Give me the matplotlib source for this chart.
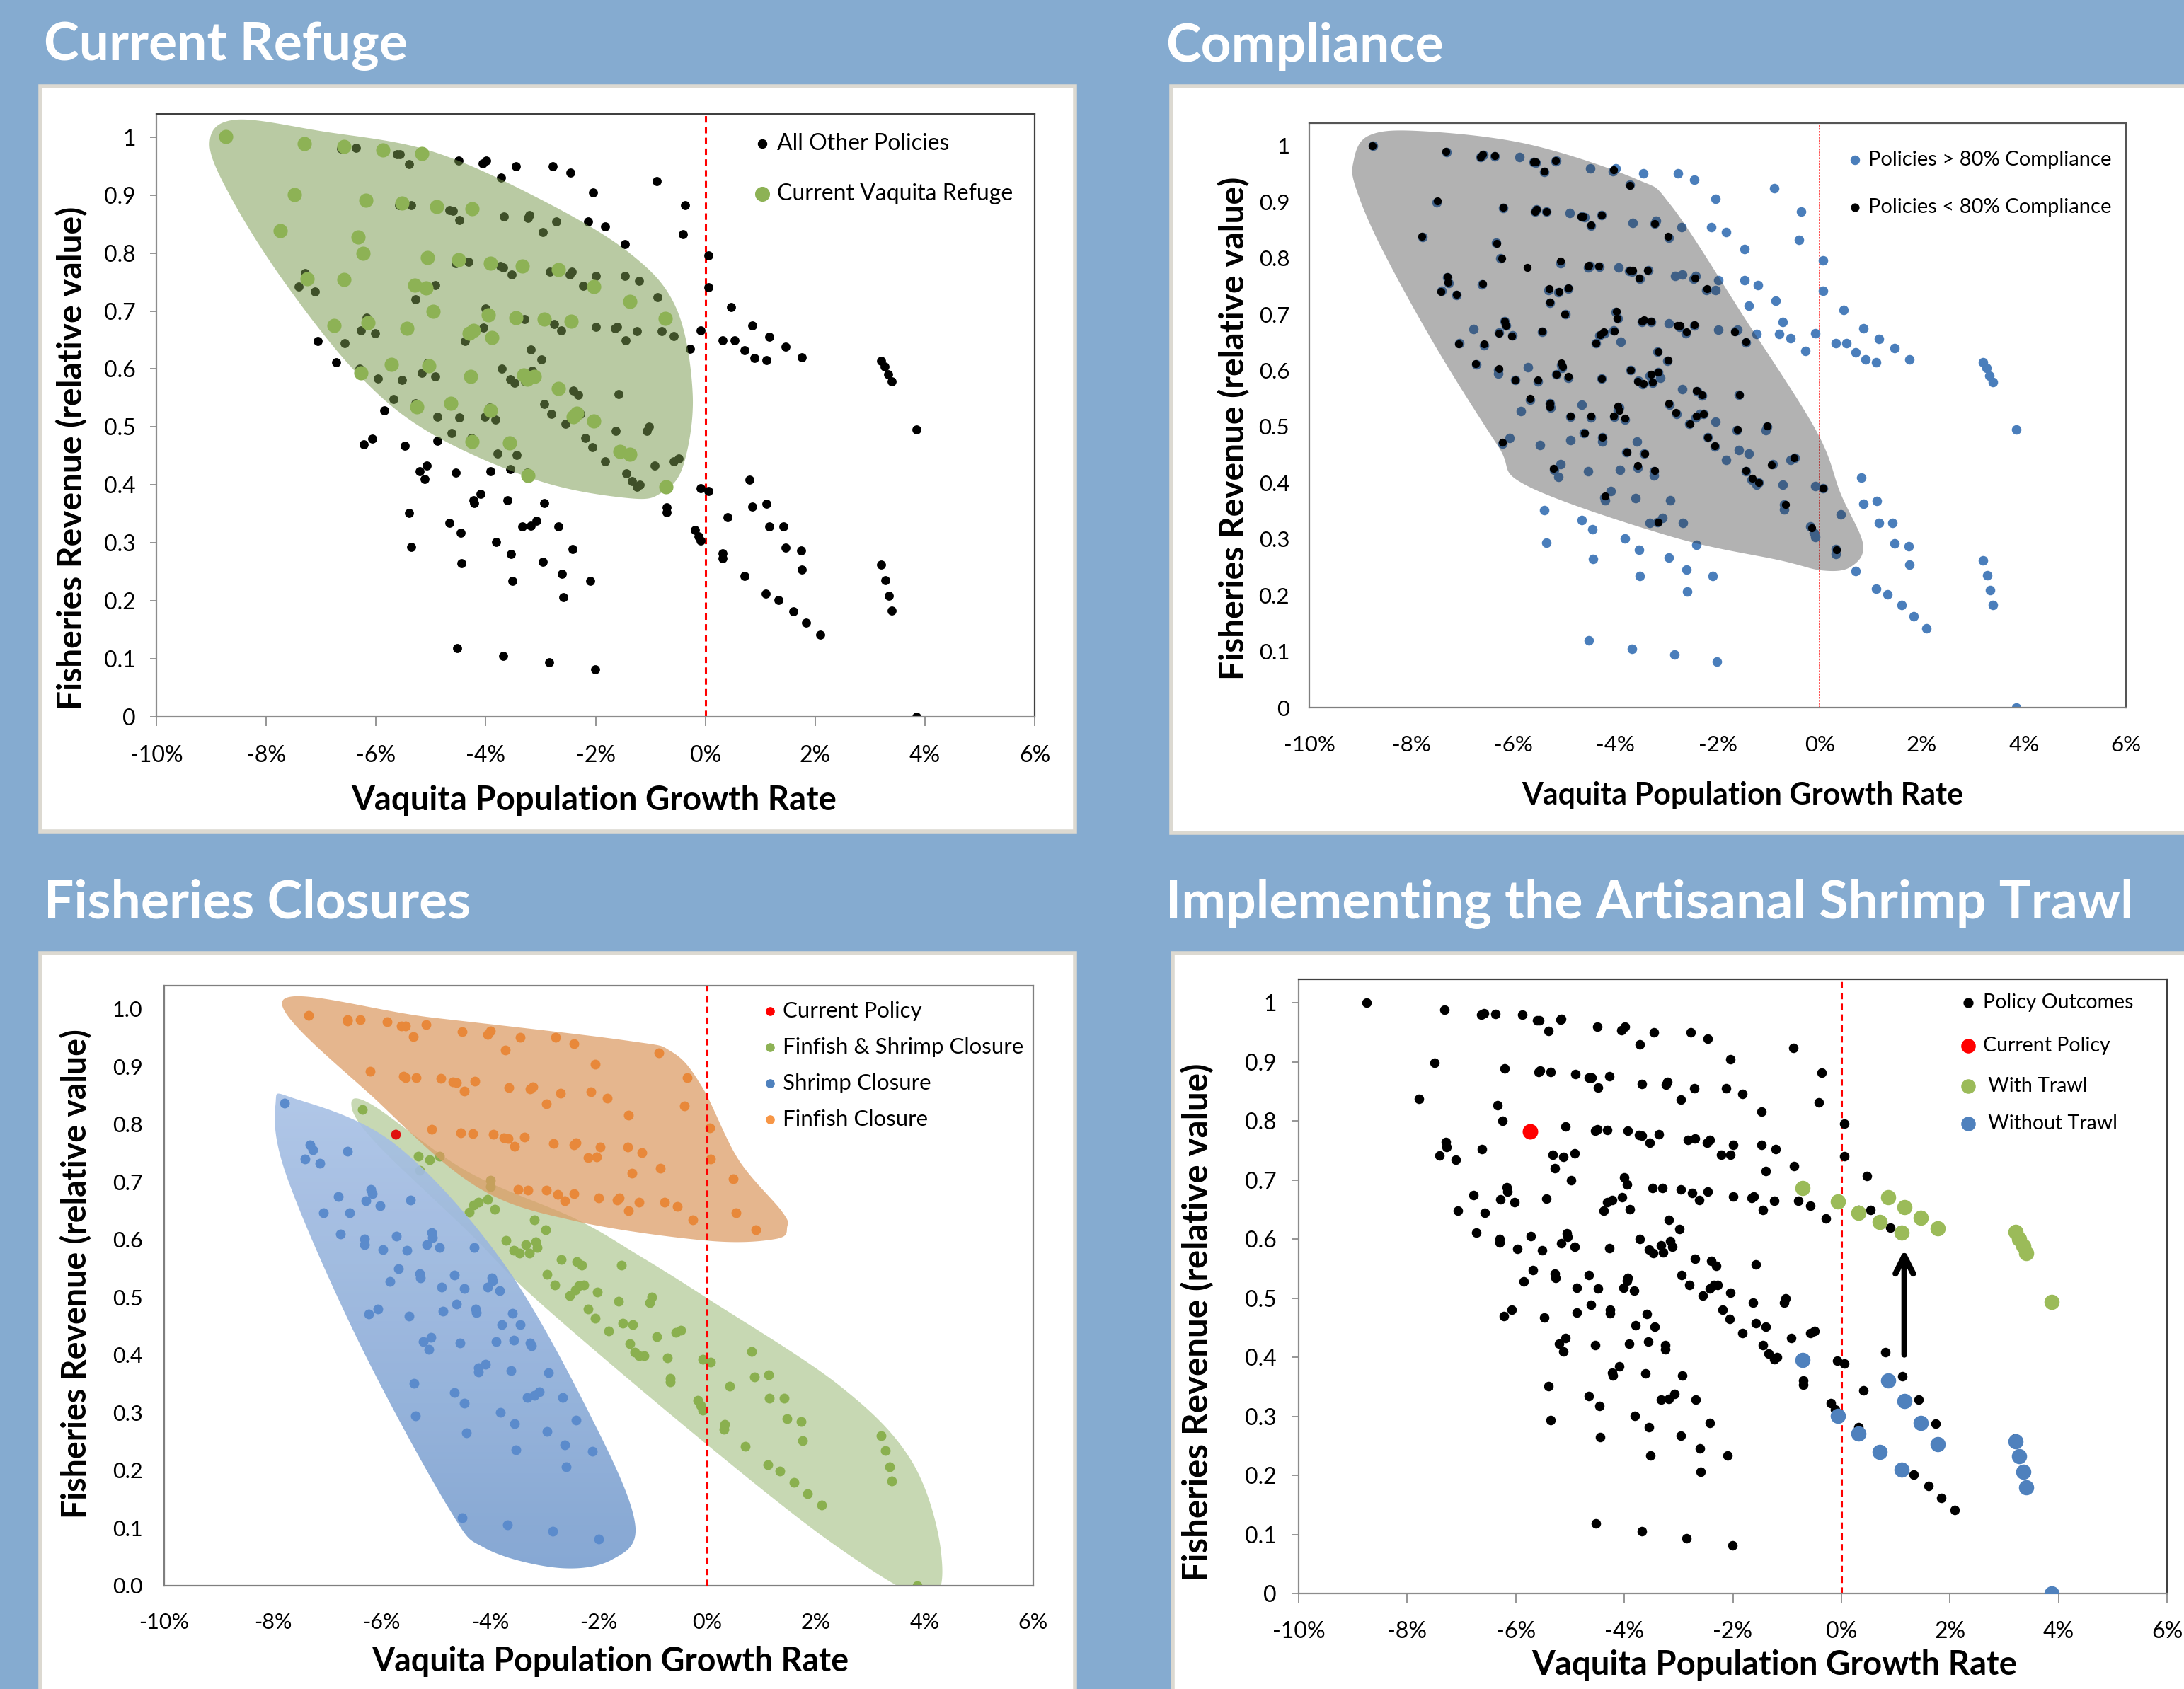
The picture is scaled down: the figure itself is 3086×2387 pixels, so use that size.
import numpy as np
import matplotlib
matplotlib.use('Agg')
import matplotlib.pyplot as plt
from matplotlib.patches import Polygon, Rectangle
from matplotlib.colors import LinearSegmentedColormap

plt.rcParams['font.family'] = ['Lato', 'DejaVu Sans']

# ---- data (growth rate in %, revenue relative) ----
growth_ticks = [-10, -8, -6, -4, -2, 0, 2, 4, 6]
growth_labels = ['-10%', '-8%', '-6%', '-4%', '-2%', '0%', '2%', '4%', '6%']
revenue_ticks = [0, 0.1, 0.2, 0.3, 0.4, 0.5, 0.6, 0.7, 0.8, 0.9, 1.0]
revenue_labels = ['0', '0.1', '0.2', '0.3', '0.4', '0.5', '0.6', '0.7', '0.8', '0.9', '1']
revenue_labels_1dp = ['0.0', '0.1', '0.2', '0.3', '0.4', '0.5', '0.6', '0.7', '0.8', '0.9', '1.0']

# every policy outcome (panels 1, 2, 4)
all_policies = [
    (-8.75, 1.000), (-7.31, 0.989), (-6.64, 0.980), (-6.59, 0.983), (-6.37, 0.981), (-5.88, 0.980),
    (-5.61, 0.971), (-5.56, 0.970), (-5.40, 0.953), (-5.18, 0.972), (-5.16, 0.973), (-4.50, 0.960),
    (-4.05, 0.954), (-3.99, 0.960), (-3.72, 0.930), (-3.45, 0.950), (-2.78, 0.950), (-2.46, 0.939),
    (-2.04, 0.905), (-0.89, 0.924), (-0.37, 0.882), (-0.41, 0.832),
    (-7.50, 0.899), (-7.78, 0.837), (-6.20, 0.889), (-5.58, 0.883), (-5.55, 0.886), (-5.36, 0.883),
    (-4.90, 0.880), (-4.66, 0.874), (-4.60, 0.873), (-4.48, 0.857), (-4.27, 0.876), (-3.67, 0.863),
    (-3.23, 0.861), (-3.20, 0.866), (-2.96, 0.836), (-2.71, 0.855), (-2.13, 0.855), (-1.83, 0.846),
    (-1.47, 0.816),
    (-6.34, 0.827), (-6.25, 0.800), (-5.08, 0.791), (-4.54, 0.783), (-4.50, 0.786), (-4.32, 0.785),
    (-3.94, 0.783), (-3.73, 0.777), (-3.68, 0.775), (-3.53, 0.763), (-3.36, 0.778), (-2.83, 0.768),
    (-2.70, 0.770), (-2.47, 0.763), (-2.43, 0.768), (-2.22, 0.743), (-2.04, 0.743), (-1.99, 0.760),
    (-1.47, 0.760), (-1.21, 0.752), (-1.39, 0.715), (-0.87, 0.724), (0.06, 0.796), (0.06, 0.741),
    (0.47, 0.707),
    (-7.29, 0.765), (-7.27, 0.756), (-7.41, 0.742), (-7.11, 0.734), (-6.62, 0.753), (-5.32, 0.743),
    (-5.12, 0.739), (-4.92, 0.745), (-5.28, 0.720), (-4.98, 0.700),
    (-6.78, 0.674), (-6.17, 0.688), (-6.15, 0.680), (-6.28, 0.667), (-6.02, 0.662), (-5.44, 0.669),
    (-7.06, 0.648), (-6.57, 0.645), (-6.73, 0.611), (-6.30, 0.600), (-6.30, 0.594), (-5.97, 0.583),
    (-5.72, 0.605), (-5.52, 0.581), (-5.06, 0.610), (-5.05, 0.604), (-5.16, 0.593), (-4.92, 0.587),
    (-4.28, 0.585),
    (-4.00, 0.704), (-3.95, 0.692), (-4.04, 0.671), (-4.32, 0.662), (-4.22, 0.666), (-4.38, 0.648),
    (-3.90, 0.651), (-3.48, 0.686), (-3.30, 0.686), (-2.96, 0.684), (-2.75, 0.678), (-2.62, 0.666),
    (-2.46, 0.680), (-1.99, 0.672), (-1.65, 0.670), (-1.61, 0.672), (-1.45, 0.650), (-1.24, 0.665),
    (-0.79, 0.665), (-0.57, 0.657), (-0.28, 0.635), (-0.72, 0.686), (-0.08, 0.666), (0.31, 0.649),
    (0.53, 0.649), (0.71, 0.632), (0.85, 0.675), (0.90, 0.619), (1.11, 0.615), (1.16, 0.656),
    (1.46, 0.639), (1.76, 0.620), (3.20, 0.614), (3.27, 0.604), (3.33, 0.591), (3.39, 0.579),
    (3.85, 0.495),
    (-3.18, 0.633), (-2.98, 0.617), (-3.71, 0.600), (-3.55, 0.582), (-3.47, 0.576), (-3.33, 0.590),
    (-3.28, 0.578), (-3.16, 0.597), (-3.12, 0.587), (-2.70, 0.567), (-2.40, 0.563), (-2.31, 0.555),
    (-1.58, 0.557),
    (-5.68, 0.548), (-5.85, 0.528), (-5.28, 0.541), (-5.27, 0.534), (-4.66, 0.539), (-4.88, 0.518),
    (-4.48, 0.516), (-3.93, 0.534), (-3.95, 0.529), (-4.02, 0.518), (-3.82, 0.513), (-2.94, 0.539),
    (-2.80, 0.522), (-2.55, 0.505), (-2.43, 0.516), (-2.34, 0.522), (-2.28, 0.522), (-2.04, 0.509),
    (-1.63, 0.493), (-1.06, 0.493), (-1.03, 0.500),
    (-6.22, 0.470), (-6.07, 0.480), (-5.48, 0.467), (-4.88, 0.476), (-4.62, 0.489), (-4.26, 0.481),
    (-4.26, 0.474), (-3.58, 0.473), (-3.79, 0.454), (-3.44, 0.452), (-2.19, 0.481), (-2.06, 0.465),
    (-1.58, 0.458), (-1.39, 0.452), (-1.83, 0.441), (-0.92, 0.433), (-0.57, 0.441), (-0.49, 0.445),
    (-1.44, 0.420), (-1.34, 0.406), (-1.24, 0.397), (-1.19, 0.400),
    (-5.20, 0.423), (-5.08, 0.433), (-5.12, 0.410), (-4.54, 0.421), (-3.91, 0.423), (-3.56, 0.427),
    (-3.25, 0.421), (-3.25, 0.413), (-4.09, 0.385), (-4.22, 0.374), (-4.21, 0.369), (-3.61, 0.373),
    (-2.93, 0.369), (-0.72, 0.397), (-0.70, 0.361), (-0.70, 0.353), (-0.08, 0.394), (0.06, 0.390),
    (0.81, 0.409), (0.85, 0.363), (1.12, 0.368), (0.41, 0.344),
    (-5.40, 0.351), (-4.66, 0.334), (-4.46, 0.317), (-3.33, 0.328), (-3.18, 0.330), (-3.08, 0.338),
    (-2.68, 0.328), (-5.36, 0.293), (-3.81, 0.301), (-3.54, 0.281), (-4.44, 0.265), (-2.96, 0.267),
    (-2.42, 0.289), (-2.61, 0.246), (-3.52, 0.234), (-2.10, 0.234), (-2.59, 0.206), (-0.19, 0.322),
    (-0.12, 0.311), (-0.08, 0.304), (1.16, 0.328), (1.42, 0.328), (1.46, 0.292), (1.74, 0.287),
    (1.76, 0.254), (0.31, 0.282), (0.31, 0.273), (0.71, 0.243), (1.10, 0.212), (1.33, 0.201),
    (1.60, 0.182), (1.84, 0.162), (2.09, 0.141), (3.20, 0.262), (3.28, 0.235), (3.34, 0.209),
    (3.39, 0.183), (3.85, 0.000),
    (-4.52, 0.119), (-3.68, 0.105), (-2.85, 0.094), (-2.01, 0.082),
]

# panel 1: current vaquita refuge
refuge_policies = [
    (-8.74, 1.001), (-7.30, 0.989), (-6.58, 0.984), (-5.87, 0.978), (-5.16, 0.972), (-7.48, 0.901),
    (-6.19, 0.891), (-5.53, 0.886), (-4.90, 0.880), (-4.25, 0.876), (-7.75, 0.838), (-6.33, 0.827),
    (-6.23, 0.800), (-5.06, 0.792), (-4.49, 0.788), (-3.91, 0.783), (-3.34, 0.778), (-2.68, 0.771),
    (-7.26, 0.756), (-6.58, 0.754), (-5.29, 0.744), (-5.09, 0.740), (-2.03, 0.742), (-1.38, 0.716),
    (-4.96, 0.700), (-3.95, 0.693), (-3.45, 0.689), (-2.94, 0.686), (-2.45, 0.682), (-0.73, 0.687),
    (-6.77, 0.675), (-6.15, 0.680), (-5.43, 0.670), (-4.30, 0.661), (-4.22, 0.666), (-3.89, 0.654),
    (-5.72, 0.608), (-5.04, 0.605), (-6.27, 0.593), (-4.27, 0.587), (-3.31, 0.590), (-3.24, 0.582),
    (-3.12, 0.587), (-2.68, 0.566), (-4.64, 0.541), (-5.26, 0.535), (-3.91, 0.529), (-2.40, 0.518),
    (-2.34, 0.524), (-2.03, 0.510), (-4.25, 0.475), (-3.57, 0.473), (-1.55, 0.458), (-1.37, 0.453),
    (-3.23, 0.416), (-0.72, 0.397),
]

# panel 2: policies below 80% compliance
low_compliance = [
    (-8.77, 1.000), (-7.32, 0.990), (-6.64, 0.980), (-6.61, 0.985), (-6.37, 0.982), (-5.61, 0.971),
    (-5.57, 0.971), (-5.40, 0.955), (-5.18, 0.973), (-4.04, 0.957), (-3.72, 0.929),
    (-7.49, 0.901), (-6.20, 0.890), (-5.58, 0.883), (-5.55, 0.886), (-5.35, 0.883), (-4.67, 0.874),
    (-4.63, 0.874), (-4.48, 0.859), (-4.28, 0.876), (-3.24, 0.861), (-2.97, 0.838), (-7.79, 0.838),
    (-6.33, 0.826), (-6.23, 0.800),
    (-5.73, 0.783), (-5.08, 0.794), (-4.54, 0.786), (-4.52, 0.787), (-4.33, 0.786), (-3.72, 0.778),
    (-3.67, 0.778), (-3.54, 0.764), (-3.37, 0.778), (-2.44, 0.764), (-2.21, 0.745),
    (-7.30, 0.767), (-7.28, 0.757), (-7.42, 0.740), (-7.12, 0.735), (-6.61, 0.754), (-5.30, 0.745),
    (-5.10, 0.740), (-4.92, 0.747), (-5.28, 0.721), (-4.99, 0.700),
    (-3.98, 0.705), (-3.97, 0.693), (-4.03, 0.670), (-4.30, 0.664), (-4.23, 0.668), (-4.38, 0.649),
    (-3.48, 0.688), (-3.44, 0.690), (-3.30, 0.688), (-2.79, 0.680), (-2.73, 0.680), (-2.61, 0.668),
    (-2.46, 0.681), (-1.67, 0.669), (-1.44, 0.651),
    (-6.18, 0.687), (-6.15, 0.680), (-6.29, 0.666), (-6.03, 0.661), (-5.44, 0.670), (-7.07, 0.647),
    (-6.57, 0.647), (-6.74, 0.612), (-6.29, 0.603), (-5.96, 0.583), (-5.67, 0.550), (-5.52, 0.583),
    (-5.28, 0.542), (-5.28, 0.535), (-5.16, 0.593), (-5.07, 0.613), (-5.04, 0.607), (-4.92, 0.589),
    (-4.28, 0.586),
    (-3.17, 0.633), (-2.97, 0.618), (-3.70, 0.601), (-3.56, 0.581), (-3.46, 0.577), (-3.31, 0.593),
    (-3.28, 0.579), (-3.16, 0.597), (-2.41, 0.564), (-2.30, 0.556), (-1.57, 0.556),
    (-2.95, 0.541), (-2.82, 0.525), (-2.54, 0.505), (-2.42, 0.519), (-2.28, 0.523), (-1.61, 0.495),
    (-1.03, 0.501),
    (-6.22, 0.472), (-4.61, 0.489), (-4.26, 0.481), (-4.88, 0.519), (-4.48, 0.519), (-4.04, 0.519),
    (-3.95, 0.536), (-3.93, 0.529), (-3.82, 0.515),
    (-3.77, 0.454), (-3.56, 0.430), (-3.43, 0.452), (-3.24, 0.422), (-2.19, 0.481), (-2.05, 0.466),
    (-1.44, 0.422), (-1.32, 0.408), (-1.19, 0.400), (-0.94, 0.432), (-0.50, 0.445),
    (-5.21, 0.425), (-4.20, 0.376), (-3.17, 0.330), (-0.67, 0.361), (-0.16, 0.320), (0.07, 0.390),
    (0.33, 0.281),
]

# panel 3: closure types
finfish_closure = [
    (-7.34, 0.988), (-6.63, 0.979), (-6.62, 0.981), (-6.39, 0.981), (-5.90, 0.977), (-5.64, 0.970),
    (-5.56, 0.970), (-5.42, 0.952), (-5.18, 0.973), (-4.52, 0.960), (-4.05, 0.955), (-3.99, 0.961),
    (-3.72, 0.929), (-3.45, 0.950), (-2.79, 0.951), (-2.46, 0.940), (-2.06, 0.904), (-0.89, 0.923),
    (-0.37, 0.881), (-0.42, 0.832),
    (-6.21, 0.891), (-5.59, 0.883), (-5.56, 0.881), (-5.36, 0.881), (-4.91, 0.879), (-4.68, 0.873),
    (-4.62, 0.872), (-4.48, 0.857), (-4.28, 0.874), (-3.66, 0.863), (-3.26, 0.861), (-3.21, 0.865),
    (-2.96, 0.835), (-2.71, 0.854), (-2.14, 0.856), (-1.84, 0.845), (-1.45, 0.815),
    (-5.08, 0.791), (-4.54, 0.785), (-4.32, 0.784), (-3.94, 0.782), (-3.74, 0.776), (-3.67, 0.775),
    (-3.55, 0.762), (-3.37, 0.777), (-2.83, 0.767), (-2.45, 0.764), (-2.42, 0.768), (-2.20, 0.742),
    (-2.04, 0.743), (-1.98, 0.760), (-1.47, 0.760), (-1.20, 0.751), (-1.39, 0.715), (-0.87, 0.724),
    (0.04, 0.793), (0.06, 0.740), (0.47, 0.705),
    (-3.49, 0.687), (-3.30, 0.686), (-2.97, 0.685), (-2.75, 0.678), (-2.62, 0.667), (-2.46, 0.680),
    (-2.00, 0.672), (-1.66, 0.669), (-1.62, 0.672), (-1.45, 0.650), (-1.26, 0.665), (-0.79, 0.665),
    (-0.55, 0.657), (-0.27, 0.634), (0.53, 0.646), (0.89, 0.617),
]
finfish_shrimp_closure = [
    (-6.35, 0.825), (-5.32, 0.744), (-5.12, 0.738), (-4.93, 0.744), (-5.30, 0.720), (-3.99, 0.703),
    (-3.99, 0.692), (-4.38, 0.648), (-4.31, 0.660), (-4.22, 0.665), (-4.04, 0.670), (-3.92, 0.652),
    (-3.19, 0.634), (-2.98, 0.617), (-3.71, 0.599), (-3.56, 0.581), (-3.46, 0.576), (-3.34, 0.591),
    (-3.28, 0.577), (-3.16, 0.596), (-3.13, 0.586), (-2.69, 0.565), (-2.40, 0.562), (-2.31, 0.555),
    (-1.58, 0.555),
    (-2.95, 0.540), (-2.81, 0.521), (-2.54, 0.503), (-2.43, 0.513), (-2.36, 0.520), (-2.28, 0.521),
    (-2.03, 0.509), (-1.63, 0.493), (-1.06, 0.491), (-1.02, 0.500),
    (-2.19, 0.479), (-2.07, 0.464), (-1.56, 0.455), (-1.38, 0.452), (-1.82, 0.441), (-0.93, 0.432),
    (-0.58, 0.439), (-0.49, 0.443), (-1.43, 0.419), (-1.34, 0.405), (-1.26, 0.399), (-1.16, 0.399),
    (-0.73, 0.395), (-0.68, 0.359), (-0.68, 0.353),
    (-0.08, 0.392), (0.06, 0.388), (0.82, 0.406), (0.86, 0.362), (1.13, 0.365), (0.41, 0.346),
    (1.14, 0.325), (1.42, 0.325), (1.46, 0.289), (1.73, 0.285), (1.75, 0.252), (0.32, 0.280),
    (0.30, 0.271), (-0.18, 0.321), (-0.13, 0.313), (-0.08, 0.304), (0.70, 0.242), (1.11, 0.210),
    (1.34, 0.199), (1.60, 0.179), (1.85, 0.160), (2.10, 0.140), (3.20, 0.260), (3.28, 0.234),
    (3.35, 0.206), (3.40, 0.181), (3.86, 0.000),
]
shrimp_closure = [
    (-7.78, 0.837), (-7.32, 0.764), (-7.27, 0.756), (-7.41, 0.740), (-7.13, 0.732), (-6.62, 0.753),
    (-6.79, 0.674), (-6.19, 0.687), (-6.17, 0.679), (-6.29, 0.667), (-6.03, 0.659), (-5.46, 0.668),
    (-7.07, 0.646), (-6.58, 0.646), (-6.75, 0.610), (-6.31, 0.601), (-6.31, 0.591), (-5.97, 0.582),
    (-5.72, 0.606), (-5.53, 0.581), (-5.07, 0.612), (-5.06, 0.603), (-5.16, 0.591), (-4.93, 0.586),
    (-4.29, 0.586), (-5.69, 0.549), (-5.84, 0.527), (-5.30, 0.541), (-5.28, 0.533), (-4.66, 0.538),
    (-4.89, 0.518), (-4.48, 0.515), (-3.97, 0.534), (-3.95, 0.529), (-4.04, 0.518), (-3.83, 0.512),
    (-6.23, 0.471), (-6.07, 0.480), (-5.49, 0.467), (-4.87, 0.476), (-4.62, 0.488), (-4.27, 0.479),
    (-4.26, 0.474), (-3.59, 0.472), (-3.78, 0.452), (-3.45, 0.452), (-5.23, 0.423), (-5.09, 0.431),
    (-5.13, 0.410), (-4.56, 0.421), (-3.89, 0.423), (-3.57, 0.426), (-3.26, 0.421), (-3.24, 0.416),
    (-4.09, 0.384), (-4.21, 0.378), (-4.21, 0.370), (-3.61, 0.373), (-2.93, 0.369), (-5.40, 0.351),
    (-4.66, 0.335), (-4.48, 0.316), (-3.31, 0.326), (-3.19, 0.330), (-3.09, 0.336), (-2.67, 0.326),
    (-5.38, 0.294), (-3.81, 0.300), (-3.55, 0.281), (-4.44, 0.265), (-2.95, 0.267), (-2.42, 0.287),
    (-2.62, 0.244), (-3.53, 0.236), (-2.12, 0.233), (-2.60, 0.206), (-4.52, 0.118), (-3.68, 0.105),
    (-2.85, 0.094), (-2.00, 0.081),
]
current_policy = (-5.74, 0.782)

# panel 4: shrimp trawl, same growth with and without trawl
trawl_growth = [-0.72, -0.07, 0.32, 0.71, 0.86, 1.16, 1.11, 1.46, 1.77, 3.21, 3.28, 3.35, 3.41, 3.87]
with_trawl = [0.686, 0.664, 0.645, 0.629, 0.671, 0.654, 0.611, 0.636, 0.618, 0.612, 0.600, 0.588, 0.576, 0.494]
without_trawl = [0.395, 0.301, 0.271, 0.240, 0.361, 0.326, 0.210, 0.289, 0.253, 0.258, 0.232, 0.206, 0.180, 0.000]

# ---- figure ----
W, H = 3086, 2387
fig = plt.figure(figsize=(W / 100, H / 100), dpi=100)
fig.patch.set_facecolor('#85ABD0')

def px_axes(l, t, r, b):
    return fig.add_axes([l / W, 1 - b / H, (r - l) / W, (b - t) / H])

def white_box(l, t, r, b):
    fig.add_artist(Rectangle((l / W, 1 - b / H), (r - l) / W, (b - t) / H, transform=fig.transFigure,
                             facecolor='white', edgecolor='#DCD9D1', lw=4, zorder=-5))

def blob(ax, pts, n=40):
    # smooth closed outline through the control points (drawn in pixel space)
    P = ax.transData.transform(np.array(pts))
    m = len(P)
    t = np.linspace(0, 1, n, endpoint=False)[:, None]
    segs = []
    for i in range(m):
        p0, p1, p2, p3 = P[i - 1], P[i], P[(i + 1) % m], P[(i + 2) % m]
        segs.append(0.5 * (2 * p1 + (-p0 + p2) * t + (2 * p0 - 5 * p1 + 4 * p2 - p3) * t ** 2
                           + (-p0 + 3 * p1 - 3 * p2 + p3) * t ** 3))
    return ax.transData.inverted().transform(np.vstack(segs))

def setup(ax, ylabels, tick_fs=23, spine_dark='#404040', spine_light='#8C8C8C', ticks=True,
          xpad=18, ypad=13):
    ax.set_xlim(-10, 6)
    ax.set_ylim(0, 1.04)
    ax.set_xticks(growth_ticks)
    ax.set_xticklabels(growth_labels, fontsize=tick_fs)
    ax.set_yticks(revenue_ticks)
    ax.set_yticklabels(ylabels, fontsize=tick_fs)
    for s in ['left', 'bottom']:
        ax.spines[s].set_color(spine_light)
        ax.spines[s].set_linewidth(1.6)
    for s in ['top', 'right']:
        ax.spines[s].set_color(spine_dark)
        ax.spines[s].set_linewidth(1.6)
    L = 9 if ticks else 0
    ax.tick_params(axis='x', length=L, width=1.3, color=spine_light, pad=xpad)
    ax.tick_params(axis='y', length=L * 0.7, width=1.3, color=spine_light, pad=ypad)
    ax.set_facecolor('white')

def legend_rows(ax, rows, xm, xt, ys, fs=18):
    for (color, size, label), y in zip(rows, ys):
        ax.scatter([xm], [y], s=size, color=color, transform=ax.transAxes, clip_on=False, zorder=10)
        ax.text(xt, y, label, transform=ax.transAxes, va='center', ha='left', fontsize=fs, zorder=10)

def xy(pts):
    a = np.array(pts)
    return a[:, 0], a[:, 1]

title_kw = dict(color='white', fontsize=54, fontweight='bold', va='baseline')
label_kw = dict(fontweight='bold', ha='center', va='baseline')
ylab_kw = dict(fontweight='bold', ha='center', va='center', rotation=90)

white_box(57, 122, 1519, 1175)
white_box(1655, 122, 3110, 1177)
white_box(57, 1347, 1519, 2410)
white_box(1657, 1347, 3110, 2410)

fig.text(62 / W, 1 - 85 / H, 'Current Refuge', **title_kw)
fig.text(1647 / W, 1 - 87 / H, 'Compliance', **title_kw)
fig.text(62 / W, 1 - 1298 / H, 'Fisheries Closures', **title_kw)
fig.text(1647 / W, 1 - 1298 / H, 'Implementing the Artisanal Shrimp Trawl', **title_kw)

ylab = 'Fisheries Revenue (relative value)'
xlab = 'Vaquita Population Growth Rate'

# ---- panel 1: current refuge ----
ax1 = px_axes(221, 161, 1462, 1013)
setup(ax1, revenue_labels, xpad=20, ypad=15)
x, y = xy(all_policies)
ax1.scatter(x, y, s=85, color='black', lw=0, zorder=2)
shape = blob(ax1, [(-9.03, 0.99), (-8.56, 1.03), (-6.98, 1.01), (-5.0, 0.976), (-3.03, 0.894),
                   (-1.38, 0.80), (-0.53, 0.705), (-0.23, 0.556), (-0.40, 0.434), (-0.79, 0.387),
                   (-1.38, 0.377), (-3.03, 0.407), (-5.0, 0.489), (-6.32, 0.59), (-7.64, 0.746),
                   (-8.63, 0.894)])
ax1.add_patch(Polygon(shape, closed=True, facecolor='#7A9B4F', alpha=0.52, lw=0, zorder=3))
x, y = xy(refuge_policies)
ax1.scatter(x, y, s=210, color='#8DB255', lw=0, zorder=4)
ax1.axvline(0, color='#FF0000', lw=2.2, ls=(0, (3, 2)), zorder=1)
legend_rows(ax1, [('black', 75, 'All Other Policies'), ('#8DB255', 200, 'Current Vaquita Refuge')],
            0.69, 0.707, [0.951, 0.867], fs=23)
fig.text(839 / W, 1 - 1145 / H, xlab, fontsize=34, **label_kw)
fig.text(102 / W, 1 - 647 / H, ylab, fontsize=34.5, **ylab_kw)

# ---- panel 2: compliance ----
ax2 = px_axes(1850, 174, 3004, 1000)
setup(ax2, revenue_labels, tick_fs=22.5, spine_dark='#555555', spine_light='#7F7F7F', ticks=False,
      xpad=28, ypad=20)
x, y = xy(all_policies)
ax2.scatter(x, y, s=95, color='#4A7EBB', lw=0, zorder=2)
shape = blob(ax2, [(-9.14, 0.969), (-8.85, 1.017), (-7.86, 1.026), (-5.74, 1.003), (-3.61, 0.941),
                   (-2.90, 0.892), (-1.49, 0.696), (-0.07, 0.493), (0.41, 0.381), (0.85, 0.29),
                   (0.60, 0.250), (0.05, 0.244), (-0.78, 0.262), (-2.90, 0.304), (-5.74, 0.395),
                   (-6.30, 0.465), (-7.51, 0.640), (-8.57, 0.815), (-9.07, 0.92)])
ax2.add_patch(Polygon(shape, closed=True, facecolor='#2E2E2E', alpha=0.37, lw=0, zorder=3))
x, y = xy(low_compliance)
ax2.scatter(x, y, s=66, color='black', lw=0, zorder=4)
ax2.axvline(0, color='#FF3030', lw=1.2, ls=(0, (1.5, 1)), zorder=1)
legend_rows(ax2, [('#4A7EBB', 75, 'Policies > 80% Compliance'), ('black', 60, 'Policies < 80% Compliance')],
            0.668, 0.685, [0.937, 0.856], fs=21)
fig.text(2462 / W, 1 - 1137 / H, xlab, fontsize=31, **label_kw)
fig.text(1744 / W, 1 - 605 / H, ylab, fontsize=34.5, **ylab_kw)

# ---- panel 3: fisheries closures ----
ax3 = px_axes(232, 1393, 1460, 2241)
setup(ax3, revenue_labels_1dp, tick_fs=22, spine_dark='#7F7F7F', spine_light='#7F7F7F', ticks=False,
      xpad=27, ypad=22)
green_shape = blob(ax3, [(-6.55, 0.83), (-6.2, 0.835), (-4.42, 0.718), (-2.43, 0.636), (-1.29, 0.574),
                         (0.0, 0.498), (2.43, 0.347), (3.76, 0.216), (4.3, 0.06), (4.05, -0.02),
                         (2.43, 0.065), (0.0, 0.244), (-3.09, 0.491), (-4.42, 0.615), (-6.09, 0.766)])
ax3.add_patch(Polygon(green_shape, closed=True, facecolor='#A9C48A', alpha=0.65, lw=0, zorder=1))
x, y = xy(finfish_shrimp_closure)
ax3.scatter(x, y, s=100, color='#8AB04F', lw=0, zorder=2)
blue_shape = blob(ax3, [(-7.95, 0.835), (-7.62, 0.845), (-5.76, 0.766), (-3.76, 0.56), (-2.10, 0.285),
                        (-1.33, 0.107), (-1.76, 0.045), (-2.76, 0.031), (-4.09, 0.065), (-4.76, 0.134),
                        (-6.42, 0.423), (-7.75, 0.711)])
clip = Polygon(blue_shape, closed=True, facecolor='none', lw=0)
ax3.add_patch(clip)
blue_cmap = LinearSegmentedColormap.from_list('bl', ['#7A9FCF', '#B5CAEB'])
grad = np.linspace(0, 1, 256)[:, None]
im = ax3.imshow(grad, extent=[-10, 6, 0, 1.04], origin='lower', aspect='auto', cmap=blue_cmap,
                alpha=0.92, zorder=3)
im.set_clip_path(clip)
x, y = xy(shrimp_closure)
ax3.scatter(x, y, s=100, color='#5B8BCC', lw=0, zorder=4)
ax3.scatter([current_policy[0]], [current_policy[1]], s=100, color='#E01010', lw=0, zorder=4)
orange_shape = blob(ax3, [(-7.82, 1.014), (-5.09, 0.985), (-1.5, 0.945), (-0.65, 0.925), (-0.1, 0.865),
                          (0.57, 0.739), (1.37, 0.649), (1.47, 0.622), (1.26, 0.601), (0.0, 0.598),
                          (-2.43, 0.632), (-4.22, 0.69), (-6.02, 0.835)])
ax3.add_patch(Polygon(orange_shape, closed=True, facecolor='#DC9A62', alpha=0.72, lw=0, zorder=5))
x, y = xy(finfish_closure)
ax3.scatter(x, y, s=100, color='#E8883A', lw=0, zorder=6)
ax3.set_xlim(-10, 6)
ax3.set_ylim(0, 1.04)
ax3.axvline(0, color='#FF0000', lw=2.2, ls=(0, (3, 2)), zorder=7)
legend_rows(ax3, [('#FF0000', 65, 'Current Policy'), ('#8DB255', 65, 'Finfish & Shrimp Closure'),
                  ('#4F81BD', 65, 'Shrimp Closure'), ('#F79646', 65, 'Finfish Closure')],
            0.697, 0.712, [0.958, 0.897, 0.837, 0.777], fs=22.5)
fig.text(862 / W, 1 - 2362 / H, xlab, fontsize=33.5, **label_kw)
fig.text(108 / W, 1 - 1800 / H, ylab, fontsize=33.5, **ylab_kw)

# ---- panel 4: artisanal shrimp trawl ----
ax4 = px_axes(1835, 1384, 3062, 2252)
setup(ax4, revenue_labels, xpad=19, ypad=16)
x, y = xy(all_policies)
ax4.scatter(x, y, s=95, color='black', lw=0, zorder=2)
ax4.scatter(trawl_growth, with_trawl, s=240, color='#9BBB59', lw=0, zorder=3)
ax4.scatter(trawl_growth, without_trawl, s=240, color='#4F81BD', lw=0, zorder=3)
ax4.scatter([current_policy[0]], [current_policy[1]], s=250, color='#FF0000', lw=0, zorder=3)
ax4.annotate('', xy=(trawl_growth[5], with_trawl[6] - 0.025), xytext=(trawl_growth[5], without_trawl[4] + 0.04),
             arrowprops=dict(arrowstyle='->', lw=6, color='black', mutation_scale=45), zorder=4)
ax4.axvline(0, color='#FF0000', lw=2.2, ls=(0, (3, 2)), zorder=1)
legend_rows(ax4, [('black', 85, 'Policy Outcomes'), ('#FF0000', 190, 'Current Policy'),
                  ('#9BBB59', 190, ' With Trawl'), ('#4F81BD', 190, ' Without Trawl')],
            0.771, 0.788, [0.962, 0.892, 0.826, 0.765], fs=20.5)
fig.text(2507 / W, 1 - 2367 / H, xlab, fontsize=34, **label_kw)
fig.text(1692 / W, 1 - 1869 / H, ylab, fontsize=35.5, **ylab_kw)

fig.savefig('out.png', dpi=100, facecolor=fig.get_facecolor())
